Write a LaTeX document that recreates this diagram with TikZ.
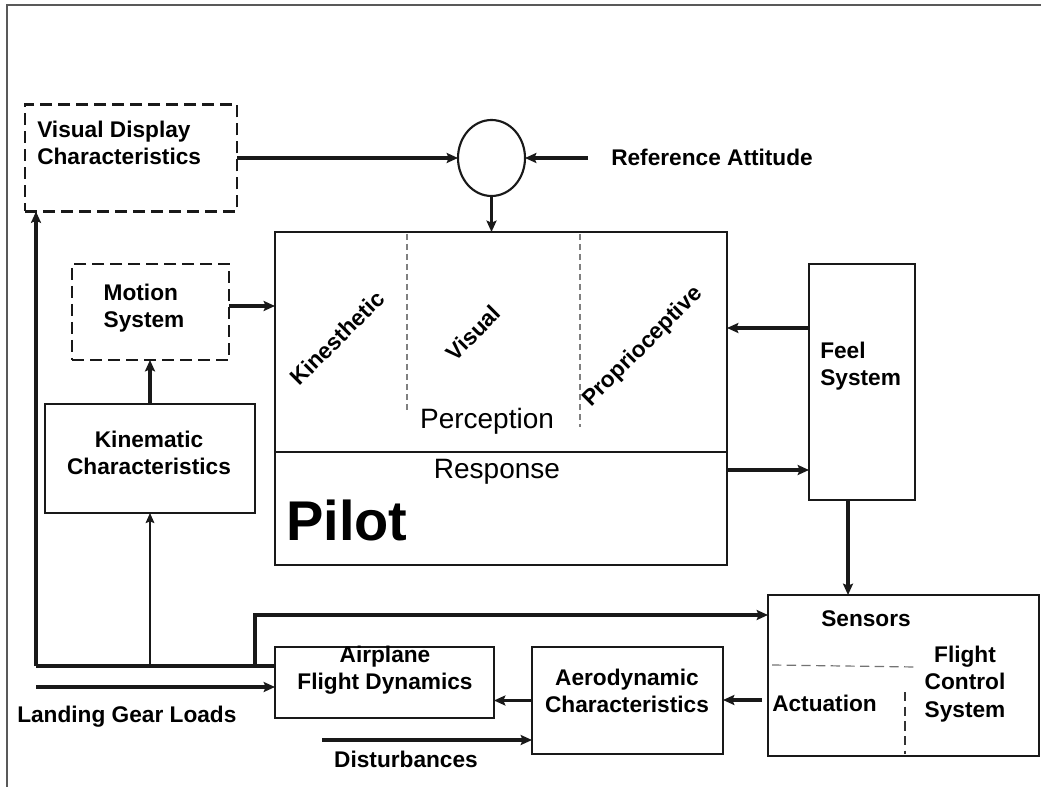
\documentclass[tikz,border=0pt]{standalone}
\usepackage{fontspec}
\setmainfont{Liberation Sans}
\usetikzlibrary{arrows.meta,shapes.geometric}
\begin{document}
\begin{tikzpicture}[x=0.75pt,y=-0.75pt,
  ink/.style={draw=black!90},
  blk/.style n args={2}{ink, line width=1.6pt, minimum width=#1*0.75pt,
    minimum height=#2*0.75pt, inner sep=0pt, outer sep=0pt},
  dashbox/.style={dash pattern=on 9pt off 4.5pt},
  lbl/.style={font=\fontsize{17}{20.5}\selectfont\bfseries, inner sep=0pt, align=center},
  lbll/.style={lbl, align=left},
  big/.style={font=\fontsize{21}{25}\selectfont, inner sep=0pt},
  arr/.style={ink, line width=2.3pt, -{Stealth[length=8.5pt,width=7.5pt,inset=1.5pt]}},
  thinarr/.style={ink, line width=1.4pt, -{Stealth[length=7.5pt,width=6.5pt,inset=1.2pt]}},
  wire/.style={ink, line width=2.3pt},
  sep/.style={draw=black!50, line width=0.9pt, dash pattern=on 4.5pt off 3pt},
  slant/.style={lbl, rotate=45}]

\useasboundingbox (0,0) rectangle (1041,787);
% outer frame
\draw[draw=black!65, line width=1pt] (7,787) -- (7,5) -- (1041,5);

% blocks
\node[blk={212}{107}, dashbox] (vd) at (131,158) {};
\node[ink, line width=1.6pt, ellipse, minimum width=67*0.75pt, minimum height=76*0.75pt,
      inner sep=0pt, outer sep=0pt] (sum) at (491.5,158) {};
\node[blk={452}{333}] (pilot) at (501,398.5) {};
\node[blk={157}{96}, dashbox] (motion) at (150.5,312) {};
\node[blk={210}{109}] (kin) at (150,458.5) {};
\node[blk={106}{236}] (feel) at (862,382) {};
\node[blk={219}{71}] (afd) at (384.5,682.5) {};
\node[blk={191}{107}] (aero) at (627.5,700.5) {};
\node[blk={271}{161}] (fcs) at (903.5,675.5) {};

% block texts
\node[lbll, anchor=west] (vdt) at (37,143) {Visual Display\\Characteristics};
\node[lbl, anchor=west] (reft) at (611,157) {Reference Attitude};
\node[lbll] (motiont) at (144,308) {Motion\\System};
\node[lbl] (kint) at (149,453) {Kinematic\\Characteristics};
\node[lbll, anchor=west] (feelt) at (820,366) {Feel\\System};
\node[lbl] (afdt) at (385,670) {Airplane\\Flight Dynamics};
\node[lbl] (aerot) at (627,691) {Aerodynamic\\Characteristics};
\node[lbl] (sensort) at (866,619) {Sensors};
\node[lbl, anchor=west] (actt) at (772,703) {Actuation};
\node[lbl] (fcst) at (965,684) {Flight\\Control\\System};
\node[lbl, anchor=west] (lgt) at (17,717) {Landing Gear Loads};
\node[lbl] (distt) at (406,759) {Disturbances};

% inside the pilot block
\draw[ink, line width=1.1pt] (pilot.west |- 0,452) -- (pilot.east |- 0,452);
\draw[sep] (407,234) -- (407,410);
\draw[sep] (580,234) -- (580,427);
\node[slant] (kinest) at (337,338) {Kinesthetic};
\node[slant] (visual) at (473,333) {Visual};
\node[slant] (propr) at (643,347) {Proprioceptive};
\node[big] (perc) at (487,421) {Perception};
\node[big] (resp) at (497,472) {Response};
\node[font=\fontsize{42}{48}\selectfont\bfseries, inner sep=0pt, anchor=west] (pilott) at (286,520) {Pilot};

% inside the flight control block
\draw[draw=black!55, line width=0.9pt, dash pattern=on 7pt off 4pt] (772,665) -- (916,667);
\draw[draw=black!80, line width=0.9pt, dash pattern=on 7pt off 4pt] (905,692) -- (905,754);

% connectors
\coordinate (refin) at (588,158);
\coordinate (j) at (36,666);
\coordinate (m) at (150,666);
\coordinate (k) at (255,666);
\coordinate (s) at (255,615);
\coordinate (lg) at (36,687);
\coordinate (dst) at (322,740);
\coordinate (act) at (762,700);
\coordinate (fpy) at (0,328);
\coordinate (pfy) at (0,470);
\coordinate (fx) at (848,0);

\draw[arr] (vd.east) -- (vd.east -| sum.west);
\draw[arr] (refin) -- (sum.east);
\draw[arr] (sum.south) -- (sum.south |- pilot.north);
\draw[arr] ([yshift=4.5pt]motion.east) -- ([yshift=4.5pt]motion.east -| pilot.west);
\draw[arr] (kin.north) -- (kin.north |- motion.south);
\draw[arr] (feel.west |- fpy) -- (pilot.east |- fpy);
\draw[arr] (pilot.east |- pfy) -- (feel.west |- pfy);
\draw[arr] (feel.south -| fx) -- (fcs.north -| fx);

\draw[wire] (afd.west |- j) -- (j);
\draw[arr] (j) -- (j |- vd.south);
\draw[thinarr] (m) -- (kin.south);
\draw[arr, rounded corners=0pt] (k) -- (s) -- (s -| fcs.west);
\draw[arr] (lg) -- (lg -| afd.west);
\draw[arr] (aero.west) -- (aero.west -| afd.east);
\draw[arr] (dst) -- (dst -| aero.west);
\draw[arr] (act) -- (act -| aero.east);
\end{tikzpicture}
\end{document}
